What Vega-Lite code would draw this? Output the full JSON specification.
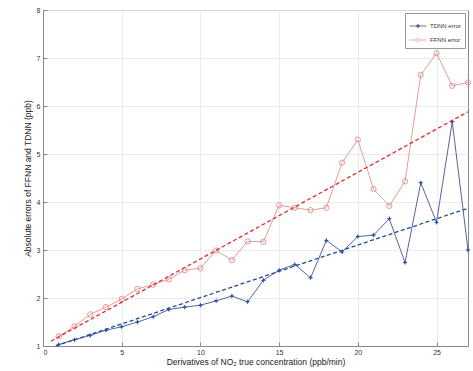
{
  "$schema": "https://vega.github.io/schema/vega-lite/v6.json",
  "autosize": "none",
  "width": 425,
  "height": 336,
  "padding": {"left": 43, "top": 10, "right": 5, "bottom": 25},
  "background": "white",
  "config": {
    "font": "Liberation Sans",
    "view": {"stroke": "#888888", "strokeWidth": 1},
    "axis": {
      "labelFont": "Liberation Sans",
      "titleFont": "Liberation Sans",
      "labelFontSize": 7,
      "titleFontSize": 8.5,
      "titleFontWeight": "normal",
      "labelColor": "#333333",
      "titleColor": "#222222",
      "domainColor": "#888888",
      "tickColor": "#888888",
      "gridColor": "#e6e6e6",
      "gridWidth": 0.8
    }
  },
  "datasets": {
    "errs": [
      {"x": 1, "y": 1.03, "s": "TDNN error"},
      {"x": 2, "y": 1.13, "s": "TDNN error"},
      {"x": 3, "y": 1.22, "s": "TDNN error"},
      {"x": 4, "y": 1.33, "s": "TDNN error"},
      {"x": 5, "y": 1.40, "s": "TDNN error"},
      {"x": 6, "y": 1.50, "s": "TDNN error"},
      {"x": 7, "y": 1.61, "s": "TDNN error"},
      {"x": 8, "y": 1.76, "s": "TDNN error"},
      {"x": 9, "y": 1.81, "s": "TDNN error"},
      {"x": 10, "y": 1.85, "s": "TDNN error"},
      {"x": 11, "y": 1.94, "s": "TDNN error"},
      {"x": 12, "y": 2.04, "s": "TDNN error"},
      {"x": 13, "y": 1.92, "s": "TDNN error"},
      {"x": 14, "y": 2.37, "s": "TDNN error"},
      {"x": 15, "y": 2.58, "s": "TDNN error"},
      {"x": 16, "y": 2.70, "s": "TDNN error"},
      {"x": 17, "y": 2.42, "s": "TDNN error"},
      {"x": 18, "y": 3.20, "s": "TDNN error"},
      {"x": 19, "y": 2.96, "s": "TDNN error"},
      {"x": 20, "y": 3.28, "s": "TDNN error"},
      {"x": 21, "y": 3.31, "s": "TDNN error"},
      {"x": 22, "y": 3.65, "s": "TDNN error"},
      {"x": 23, "y": 2.74, "s": "TDNN error"},
      {"x": 24, "y": 4.40, "s": "TDNN error"},
      {"x": 25, "y": 3.58, "s": "TDNN error"},
      {"x": 26, "y": 5.67, "s": "TDNN error"},
      {"x": 27, "y": 3.00, "s": "TDNN error"},
      {"x": 1, "y": 1.20, "s": "FFNN error"},
      {"x": 2, "y": 1.41, "s": "FFNN error"},
      {"x": 3, "y": 1.66, "s": "FFNN error"},
      {"x": 4, "y": 1.81, "s": "FFNN error"},
      {"x": 5, "y": 1.98, "s": "FFNN error"},
      {"x": 6, "y": 2.19, "s": "FFNN error"},
      {"x": 7, "y": 2.28, "s": "FFNN error"},
      {"x": 8, "y": 2.39, "s": "FFNN error"},
      {"x": 9, "y": 2.58, "s": "FFNN error"},
      {"x": 10, "y": 2.62, "s": "FFNN error"},
      {"x": 11, "y": 2.99, "s": "FFNN error"},
      {"x": 12, "y": 2.79, "s": "FFNN error"},
      {"x": 13, "y": 3.18, "s": "FFNN error"},
      {"x": 14, "y": 3.17, "s": "FFNN error"},
      {"x": 15, "y": 3.93, "s": "FFNN error"},
      {"x": 16, "y": 3.88, "s": "FFNN error"},
      {"x": 17, "y": 3.83, "s": "FFNN error"},
      {"x": 18, "y": 3.88, "s": "FFNN error"},
      {"x": 19, "y": 4.82, "s": "FFNN error"},
      {"x": 20, "y": 5.30, "s": "FFNN error"},
      {"x": 21, "y": 4.27, "s": "FFNN error"},
      {"x": 22, "y": 3.92, "s": "FFNN error"},
      {"x": 23, "y": 4.43, "s": "FFNN error"},
      {"x": 24, "y": 6.65, "s": "FFNN error"},
      {"x": 25, "y": 7.10, "s": "FFNN error"},
      {"x": 26, "y": 6.42, "s": "FFNN error"},
      {"x": 27, "y": 6.49, "s": "FFNN error"}
    ],
    "fits": [
      {"x": 0.8, "y": 1.0, "s": "TDNN fit"},
      {"x": 27, "y": 3.87, "s": "TDNN fit"},
      {"x": 0.5, "y": 1.1, "s": "FFNN fit"},
      {"x": 27, "y": 5.88, "s": "FFNN fit"}
    ]
  },
  "encoding": {
    "x": {
      "field": "x", "type": "quantitative",
      "scale": {"domain": [0, 27], "nice": false, "zero": false},
      "axis": {"values": [0, 5, 10, 15, 20, 25], "grid": true, "tickSize": -4, "labelPadding": 6,
               "title": "Derivatives of NO₂ true concentration (ppb/min)", "titlePadding": 2}
    },
    "y": {
      "field": "y", "type": "quantitative",
      "scale": {"domain": [1, 8], "nice": false, "zero": false},
      "axis": {"values": [1, 2, 3, 4, 5, 6, 7, 8], "grid": true, "tickSize": -4, "labelPadding": 7,
               "title": "Absolute errors of FFNN and TDNN (ppb)", "titlePadding": 4}
    }
  },
  "layer": [
    {
      "data": {"name": "errs"},
      "mark": {"type": "line", "strokeWidth": 1},
      "encoding": {
        "color": {
          "field": "s", "type": "nominal",
          "scale": {"domain": ["TDNN error", "FFNN error"], "range": ["#56649a", "#e39c9c"]},
          "legend": {
            "title": null,
            "orient": "top-right",
            "offset": 3,
            "symbolType": "stroke",
            "symbolSize": 280,
            "symbolStrokeWidth": 0.9,
            "labelFontSize": 6,
            "labelColor": "#333333",
            "strokeColor": "#999999",
            "fillColor": "white",
            "padding": 4,
            "rowPadding": 1,
            "labelOffset": 3,
            "encode": {
              "symbols": {
                "update": {
                  "shape": {"signal": "datum.value === 'TDNN error' ? 'M-1,0H1M0,-0.22L0.07,-0.07L0.22,0L0.07,0.07L0,0.22L-0.07,0.07L-0.22,0L-0.07,-0.07Z' : 'M-1,0H-0.2M0.2,0H1M0.2,0A0.2,0.2 0 1 1 -0.2,0A0.2,0.2 0 1 1 0.2,0'"},
                  "fill": {"signal": "datum.value === 'TDNN error' ? '#2b4fb2' : 'transparent'"}
                }
              }
            }
          }
        }
      }
    },
    {
      "data": {"name": "errs"},
      "transform": [{"filter": "datum.s === 'TDNN error'"}],
      "mark": {"type": "point", "shape": "M0,-1L0.28,-0.28L1,0L0.28,0.28L0,1L-0.28,0.28L-1,0L-0.28,-0.28Z", "filled": true, "color": "#2b4fb2", "size": 30, "opacity": 1}
    },
    {
      "data": {"name": "errs"},
      "transform": [{"filter": "datum.s === 'FFNN error'"}],
      "mark": {"type": "point", "shape": "circle", "filled": false, "color": "#e08c8c", "size": 28, "strokeWidth": 0.9, "opacity": 1}
    },
    {
      "data": {"name": "fits"},
      "mark": {"type": "line", "strokeWidth": 1.3, "strokeDash": [4, 2.5]},
      "encoding": {
        "detail": {"field": "s", "type": "nominal"},
        "color": {
          "field": "s", "type": "nominal",
          "scale": {"domain": ["TDNN fit", "FFNN fit"], "range": ["#1f4c98", "#e8282b"]},
          "legend": null
        }
      }
    }
  ],
  "resolve": {"scale": {"color": "independent"}}
}
